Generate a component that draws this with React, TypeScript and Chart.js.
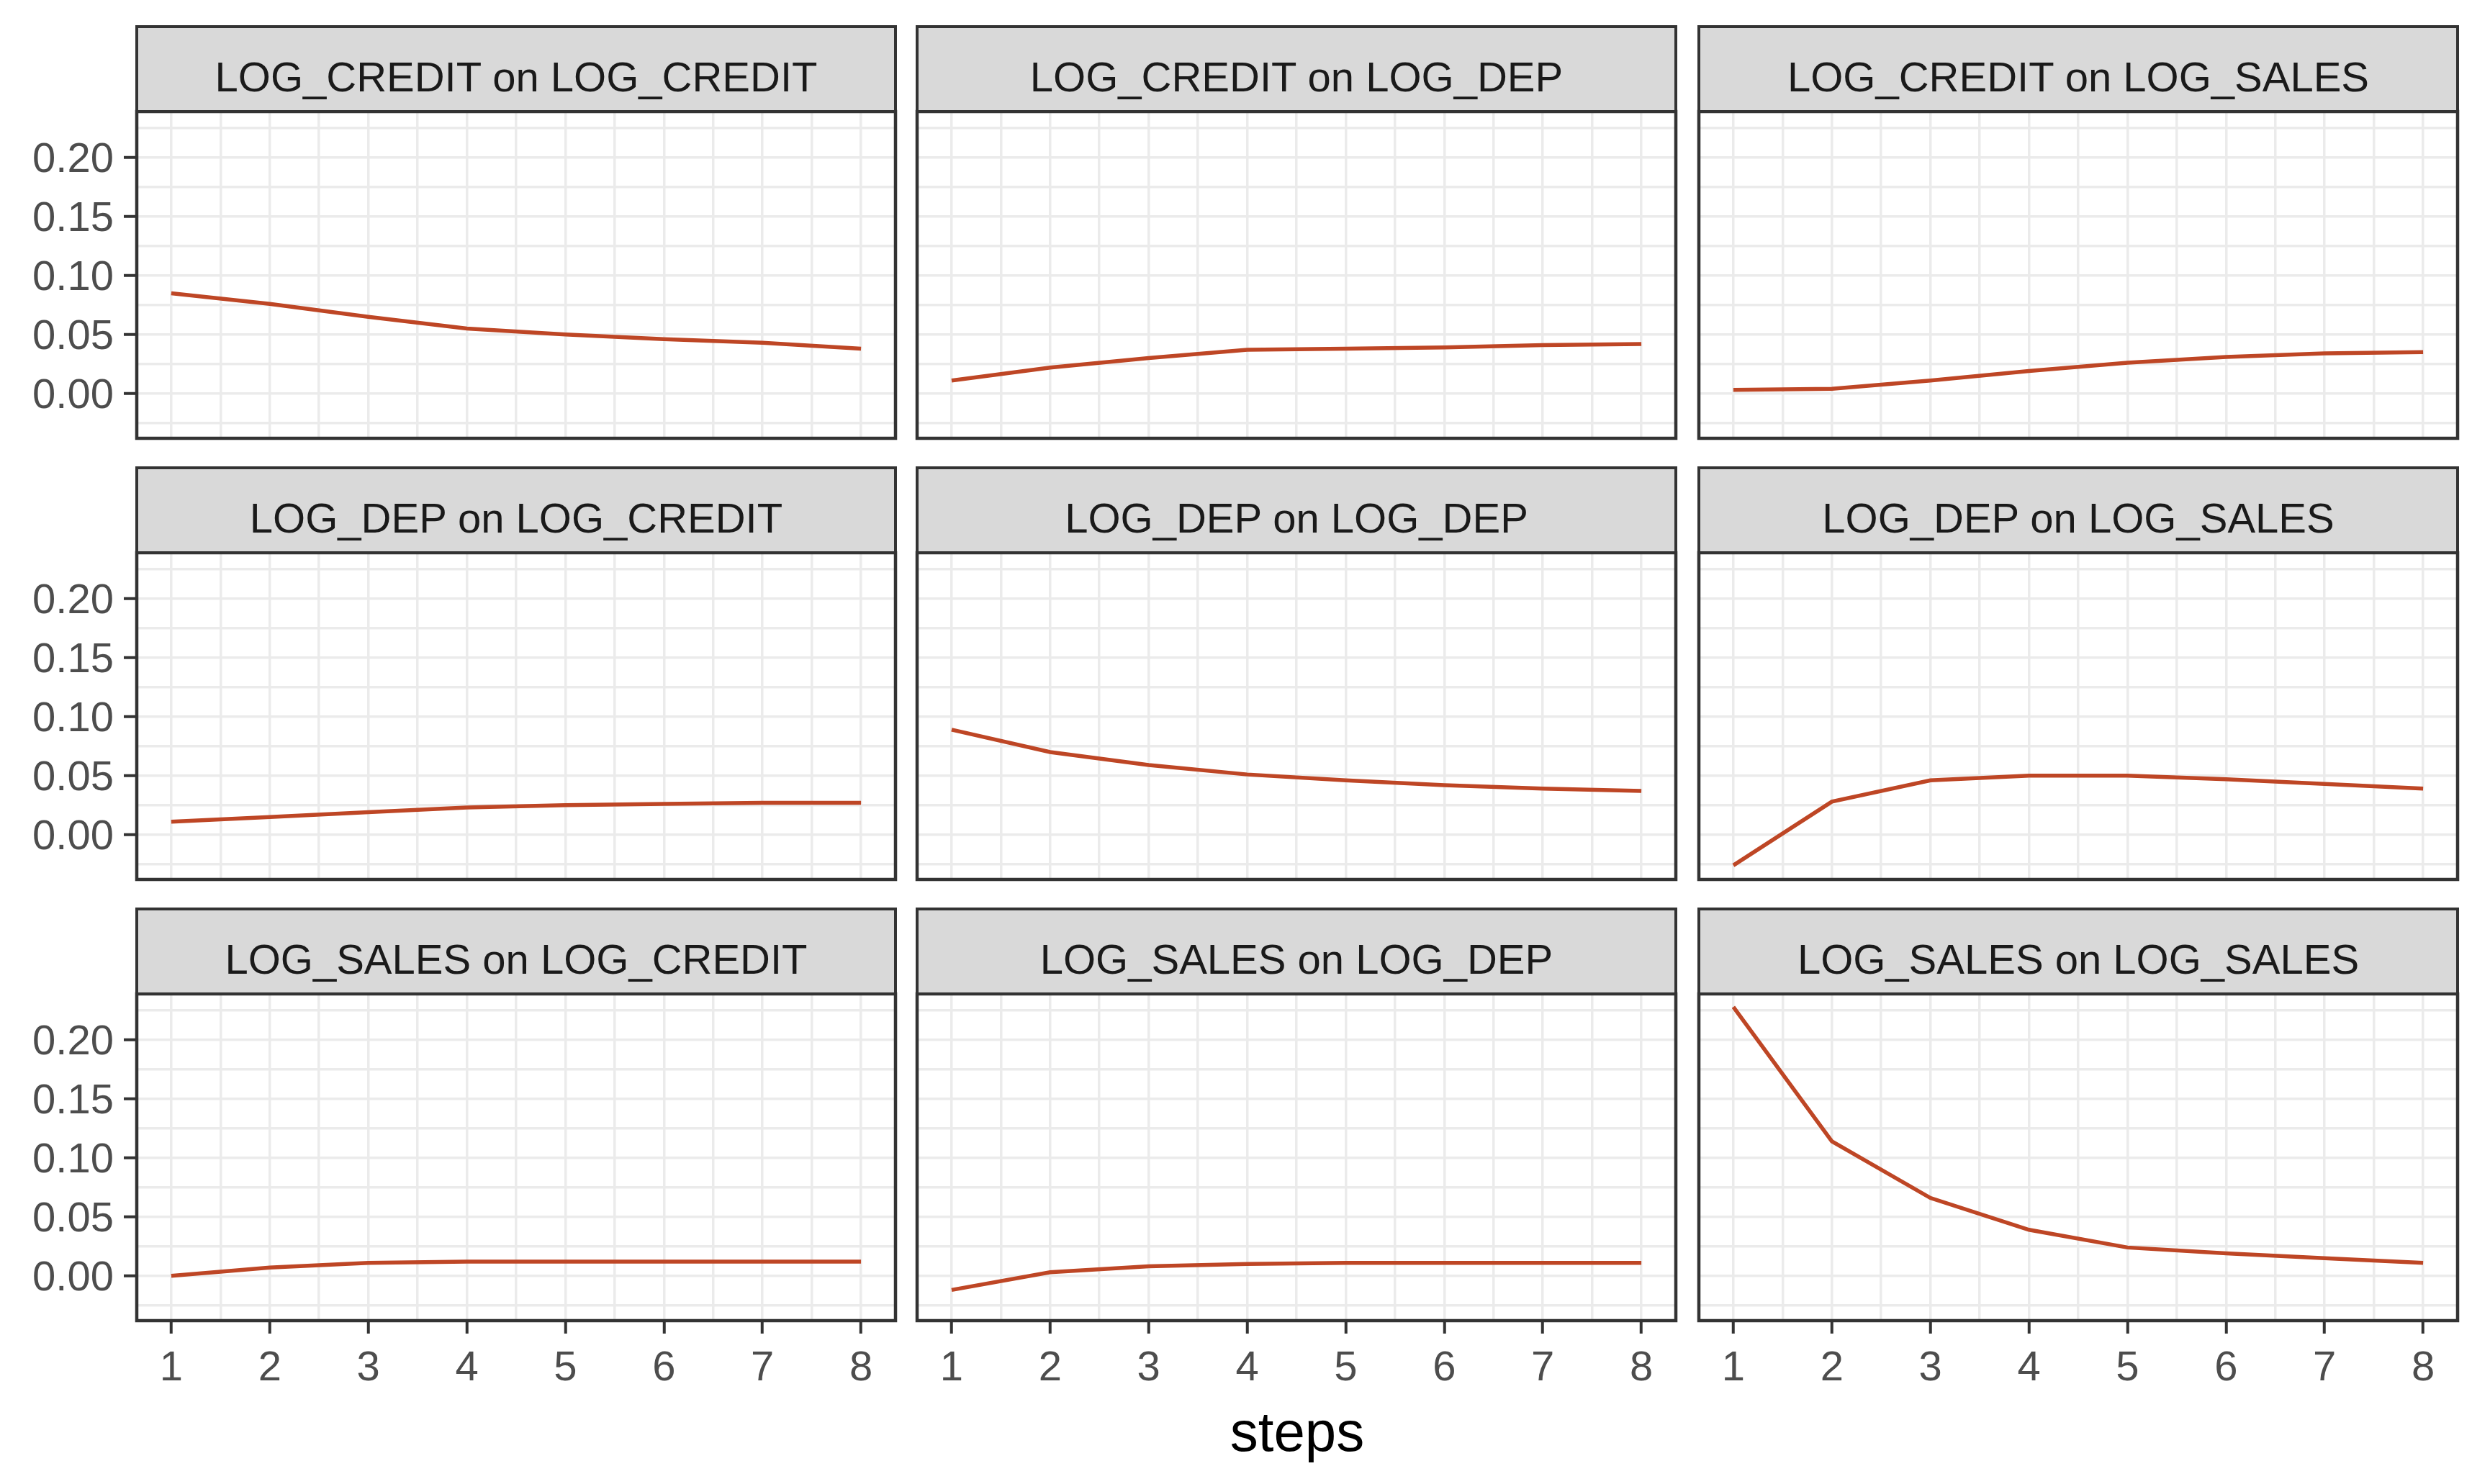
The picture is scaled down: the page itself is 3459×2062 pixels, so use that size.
import React, { useEffect, useRef } from "react";
import { Chart, registerables } from "chart.js";

Chart.register(...registerables);

// ---------------- data ----------------
const steps = [1, 2, 3, 4, 5, 6, 7, 8];

const creditOnCredit = [0.085, 0.076, 0.065, 0.055, 0.050, 0.046, 0.043, 0.038];
const creditOnDep = [0.011, 0.022, 0.030, 0.037, 0.038, 0.039, 0.041, 0.042];
const creditOnSales = [0.003, 0.004, 0.011, 0.019, 0.026, 0.031, 0.034, 0.035];
const depOnCredit = [0.011, 0.015, 0.019, 0.023, 0.025, 0.026, 0.027, 0.027];
const depOnDep = [0.089, 0.070, 0.059, 0.051, 0.046, 0.042, 0.039, 0.037];
const depOnSales = [-0.026, 0.028, 0.046, 0.050, 0.050, 0.047, 0.043, 0.039];
const salesOnCredit = [0.000, 0.007, 0.011, 0.012, 0.012, 0.012, 0.012, 0.012];
const salesOnDep = [-0.012, 0.003, 0.008, 0.010, 0.011, 0.011, 0.011, 0.011];
const salesOnSales = [0.228, 0.114, 0.066, 0.039, 0.024, 0.019, 0.015, 0.011];

const panelTitles = [
  "LOG_CREDIT on LOG_CREDIT",
  "LOG_CREDIT on LOG_DEP",
  "LOG_CREDIT on LOG_SALES",
  "LOG_DEP on LOG_CREDIT",
  "LOG_DEP on LOG_DEP",
  "LOG_DEP on LOG_SALES",
  "LOG_SALES on LOG_CREDIT",
  "LOG_SALES on LOG_DEP",
  "LOG_SALES on LOG_SALES",
];
const panelSeries = [
  creditOnCredit, creditOnDep, creditOnSales,
  depOnCredit, depOnDep, depOnSales,
  salesOnCredit, salesOnDep, salesOnSales,
];

const xMajorTicks = [1, 2, 3, 4, 5, 6, 7, 8];
const xMinorTicks = [1.5, 2.5, 3.5, 4.5, 5.5, 6.5, 7.5];
const yMajorTicks = [0, 0.05, 0.1, 0.15, 0.2];
const yMinorTicks = [-0.025, 0.025, 0.075, 0.125, 0.175, 0.225];
const xTitle = "steps";

// ---------------- layout / style ----------------
const X_MIN = 0.65;
const X_MAX = 8.35;
const Y_MIN = -0.038;
const Y_MAX = 0.239;

const COL_LEFT = [190, 1274, 2360];
const PLOT_W = 1054;
const PLOT_TOP = [155, 768, 1381];
const PLOT_H = 454;
const STRIP_H = 118;
const Y_AXIS_W = 190;
const X_AXIS_H = 120;
const PAD = 6;

const FONT = '"Liberation Sans", Arial, Helvetica, sans-serif';
const LINE_COLOR = "#BE4625";
const GRID_COLOR = "#EBEBEB";
const DARK = "#333333";
const BORDER_W = 4.5;

const isMajor = (v: number, list: number[]) => list.some((m) => Math.abs(m - v) < 1e-9);
const xTicksAll = [...xMajorTicks, ...xMinorTicks].sort((a, b) => a - b);
const yTicksAll = [...yMajorTicks, ...yMinorTicks].sort((a, b) => a - b);

const framePlugin = {
  id: "panelFrame",
  afterDraw(chart: any) {
    const { ctx, chartArea } = chart;
    ctx.save();
    ctx.strokeStyle = DARK;
    ctx.lineWidth = BORDER_W;
    ctx.strokeRect(
      chartArea.left,
      chartArea.top,
      chartArea.right - chartArea.left,
      chartArea.bottom - chartArea.top
    );
    ctx.restore();
  },
};

function Panel({ row, col, values }: { row: number; col: number; values: number[] }) {
  const ref = useRef<HTMLCanvasElement>(null);
  const isLeft = col === 0;
  const isBottom = row === 2;
  const yW = isLeft ? Y_AXIS_W : 0;
  const xH = isBottom ? X_AXIS_H : 0;
  const padL = isLeft ? 0 : PAD;
  const padB = isBottom ? 0 : PAD;
  const left = COL_LEFT[col] - yW - padL;
  const top = PLOT_TOP[row] - PAD;
  const width = padL + yW + PLOT_W + PAD;
  const height = PAD + PLOT_H + xH + padB;

  useEffect(() => {
    if (!ref.current) return;
    const chart = new Chart(ref.current, {
      type: "line",
      data: {
        datasets: [
          {
            data: steps.map((s, i) => ({ x: s, y: values[i] })),
            borderColor: LINE_COLOR,
            borderWidth: 5.5,
            pointRadius: 0,
            pointHoverRadius: 0,
            tension: 0,
            fill: false,
          },
        ],
      },
      options: {
        animation: false,
        responsive: true,
        maintainAspectRatio: false,
        events: [],
        layout: { padding: { left: padL, top: PAD, right: PAD, bottom: padB } },
        plugins: {
          legend: { display: false },
          tooltip: { enabled: false },
          title: { display: false },
        },
        scales: {
          x: {
            type: "linear",
            min: X_MIN,
            max: X_MAX,
            afterBuildTicks: (s: any) => {
              s.ticks = xTicksAll.map((v) => ({ value: v }));
            },
            afterFit: (s: any) => {
              s.height = xH;
              s.paddingLeft = 0;
              s.paddingRight = 0;
            },
            border: { display: false },
            grid: {
              color: GRID_COLOR,
              lineWidth: 3.5,
              drawTicks: isBottom,
              tickLength: 18,
              tickWidth: 4,
              tickColor: (c: any) =>
                c.tick && isMajor(c.tick.value, xMajorTicks) ? DARK : "rgba(0,0,0,0)",
            },
            ticks: {
              display: isBottom,
              autoSkip: false,
              maxRotation: 0,
              minRotation: 0,
              padding: 14,
              color: "#4D4D4D",
              font: { family: FONT, size: 58 },
              callback: (v: any) => (isMajor(Number(v), xMajorTicks) ? String(v) : ""),
            },
          },
          y: {
            type: "linear",
            min: Y_MIN,
            max: Y_MAX,
            afterBuildTicks: (s: any) => {
              s.ticks = yTicksAll.map((v) => ({ value: v }));
            },
            afterFit: (s: any) => {
              s.width = yW;
              s.paddingTop = 0;
              s.paddingBottom = 0;
            },
            border: { display: false },
            grid: {
              color: GRID_COLOR,
              lineWidth: 3.5,
              drawTicks: isLeft,
              tickLength: 18,
              tickWidth: 4,
              tickColor: (c: any) =>
                c.tick && isMajor(c.tick.value, yMajorTicks) ? DARK : "rgba(0,0,0,0)",
            },
            ticks: {
              display: isLeft,
              autoSkip: false,
              padding: 14,
              labelOffset: 4,
              color: "#4D4D4D",
              font: { family: FONT, size: 58 },
              callback: (v: any) =>
                isMajor(Number(v), yMajorTicks) ? Number(v).toFixed(2) : "",
            },
          },
        },
      },
      plugins: [framePlugin],
    } as any);
    return () => chart.destroy();
  }, []);

  return (
    <div style={{ position: "absolute", left, top, width, height }}>
      <canvas ref={ref} />
    </div>
  );
}

function Strip({ row, col, title }: { row: number; col: number; title: string }) {
  const stripTop = PLOT_TOP[row] - STRIP_H;
  return (
    <div
      style={{
        position: "absolute",
        left: COL_LEFT[col] - BORDER_W / 2,
        top: stripTop - BORDER_W / 2,
        width: PLOT_W + BORDER_W,
        height: STRIP_H + BORDER_W,
        boxSizing: "border-box",
        border: `${BORDER_W}px solid ${DARK}`,
        background: "#D9D9D9",
        display: "flex",
        alignItems: "center",
        justifyContent: "center",
        paddingTop: 21,
        fontFamily: FONT,
        fontSize: 58,
        lineHeight: 1,
        color: "#1A1A1A",
        whiteSpace: "nowrap",
      }}
    >
      {title}
    </div>
  );
}

export default function App() {
  const panels = [];
  for (let r = 0; r < 3; r++) {
    for (let c = 0; c < 3; c++) {
      panels.push({ r, c, i: r * 3 + c });
    }
  }
  const centerX = (COL_LEFT[0] + COL_LEFT[2] + PLOT_W) / 2;
  return (
    <div
      style={{
        position: "absolute",
        left: 0,
        top: 0,
        width: 3459,
        height: 2062,
        background: "#FFFFFF",
        overflow: "hidden",
      }}
    >
      {panels.map((p) => (
        <Panel key={"p" + p.i} row={p.r} col={p.c} values={panelSeries[p.i]} />
      ))}
      {panels.map((p) => (
        <Strip key={"s" + p.i} row={p.r} col={p.c} title={panelTitles[p.i]} />
      ))}
      <div
        style={{
          position: "absolute",
          left: centerX - 300,
          width: 600,
          top: 1950,
          textAlign: "center",
          fontFamily: FONT,
          fontSize: 78,
          lineHeight: 1,
          color: "#000000",
        }}
      >
        {xTitle}
      </div>
    </div>
  );
}
